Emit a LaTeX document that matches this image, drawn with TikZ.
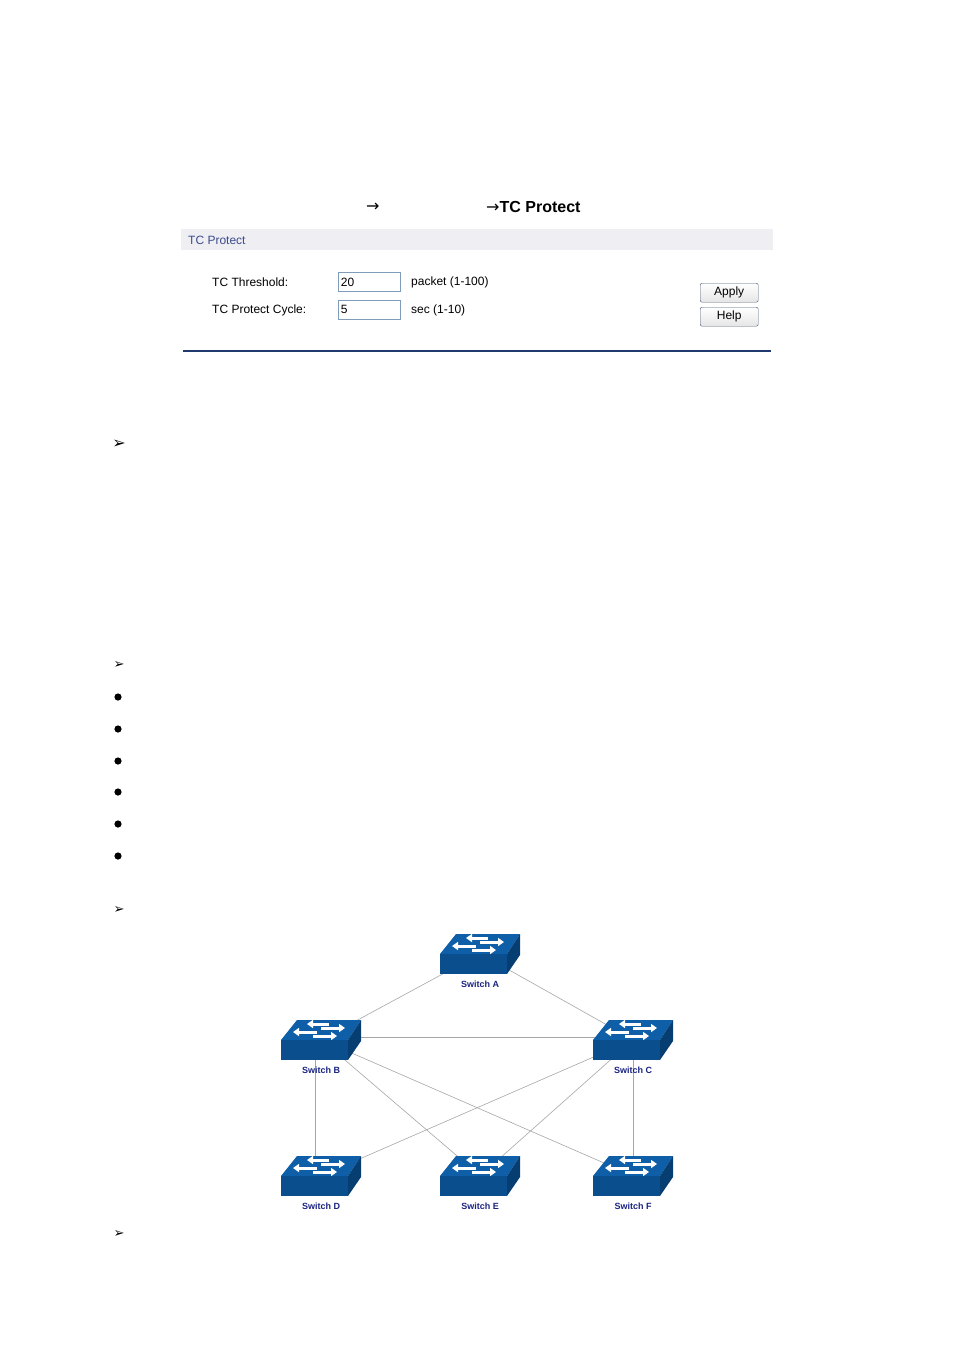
\documentclass[tikz,border=0pt]{standalone}
\usepackage{fontspec}
\setmainfont{Liberation Sans}
\newfontfamily\djv{DejaVu Sans}
\usetikzlibrary{arrows.meta,backgrounds}
\definecolor{swtop}{HTML}{0E5FA8}
\definecolor{swfront}{HTML}{0A4E8E}
\definecolor{swside}{HTML}{073E72}
\definecolor{navy}{HTML}{1A2380}
\definecolor{hdr}{HTML}{EEEEF3}
\definecolor{hdrtext}{HTML}{3C4C8C}
\definecolor{boxb}{HTML}{7F9DB9}
\definecolor{rulec}{HTML}{1F3A6E}
\definecolor{btnb}{HTML}{4A5A78}
\tikzset{
  swbox/.style={minimum width=80pt,minimum height=41pt,inner sep=0,anchor=north west},
  swlabel/.style={font=\fontsize{9}{10}\selectfont\bfseries,text=navy},
  link/.style={draw=gray!70,line width=0.6pt},
  wa/.style={white,line width=3pt,-{Triangle[length=6pt,width=8pt]}},
  formtxt/.style={font=\fontsize{12}{14}\selectfont,anchor=west,inner sep=0},
  inbox/.style={draw=boxb,line width=0.8pt,minimum width=62pt,minimum height=19pt,anchor=north west,inner sep=1.5pt,font=\fontsize{12}{14}\selectfont,text width=57pt,align=left},
  btn/.style={draw=btnb,rounded corners=2pt,minimum width=58pt,minimum height=19pt,anchor=north west,inner sep=0,top color=white,bottom color=gray!20,font=\fontsize{12}{14}\selectfont},
  bul/.style={font=\djv\fontsize{13}{13}\selectfont,inner sep=0},
}
\newcommand{\sw}[1]{%
  \begin{scope}[shift={(#1)}]
    \fill[swtop] (16,1)--(80,1)--(67,21)--(0,21)--cycle;
    \fill[swfront] (0,21) rectangle (67,41);
    \fill[swside] (67,21)--(80,1)--(80,22)--(67,41)--cycle;
    \draw[wa] (48,5)--(26,5);
    \draw[wa] (40,9)--(64,9);
    \draw[wa] (36,13)--(12,13);
    \draw[wa] (32,17)--(56,17);
  \end{scope}}
\begin{document}
\begin{tikzpicture}[x=1pt,y=-1pt]
\useasboundingbox (0,0) rectangle (954,1350);
% title
\node[font=\djv\fontsize{16}{18}\selectfont,anchor=west,inner sep=0] (arr1) at (366,207) {→};
\node[anchor=west,inner sep=0] (title) at (486,207) {{\djv\fontsize{16}{18}\selectfont →}{\fontsize{16}{18}\selectfont\bfseries TC Protect}};
% form
\fill[hdr] (181,229) rectangle (773,250);
\node[formtxt,text=hdrtext] (hdrt) at (188,240) {TC Protect};
\node[formtxt] (l1) at (212,282) {TC Threshold:};
\node[formtxt] (l2) at (212,310) {TC Protect Cycle:};
\node[inbox] (i1) at (338,272) {20};
\node[inbox] (i2) at (338,300) {5};
\node[formtxt] (u1) at (411,282) {packet (1-100)};
\node[formtxt] (u2) at (411,310) {sec (1-10)};
\node[btn] (apply) at (700,283) {Apply};
\node[btn] (help) at (700,307) {Help};
\draw[rulec,line width=2pt] (183,351)--(771,351);
% bullets
\node[bul,font=\djv\fontsize{16}{16}\selectfont] at (119,444) {➢};
\foreach \y in {665,910,1234} \node[bul] at (119,\y) {➢};
\foreach \y in {697,729,761,792,824,856} \fill (118,\y) circle (3.6);
% switches
\node[swbox] (A) at (440,933) {};
\node[swbox] (B) at (281,1019) {};
\node[swbox] (C) at (593,1019) {};
\node[swbox] (D) at (281,1155) {};
\node[swbox] (E) at (440,1155) {};
\node[swbox] (F) at (593,1155) {};
\draw[link] (A.center)--(B.center);
\draw[link] (A.center)--(C.center);
\draw[link] ([yshift=2]B.center)--([yshift=2]C.center);
\draw[link] ([xshift=-6]B.center)--([xshift=-6]D.center);
\draw[link] (C.center)--(F.center);
\draw[link] (B.center)--(E.center);
\draw[link] (B.center)--(F.center);
\draw[link] (C.center)--(D.center);
\draw[link] (C.center)--(E.center);
\sw{440,933}\sw{281,1019}\sw{593,1019}\sw{281,1155}\sw{440,1155}\sw{593,1155}
\node[swlabel] (la) at (480,984) {Switch A};
\node[swlabel] (lb) at (321,1070) {Switch B};
\node[swlabel] (lc) at (633,1070) {Switch C};
\node[swlabel] (ld) at (321,1206) {Switch D};
\node[swlabel] (le) at (480,1206) {Switch E};
\node[swlabel] (lf) at (633,1206) {Switch F};
\end{tikzpicture}
\end{document}
